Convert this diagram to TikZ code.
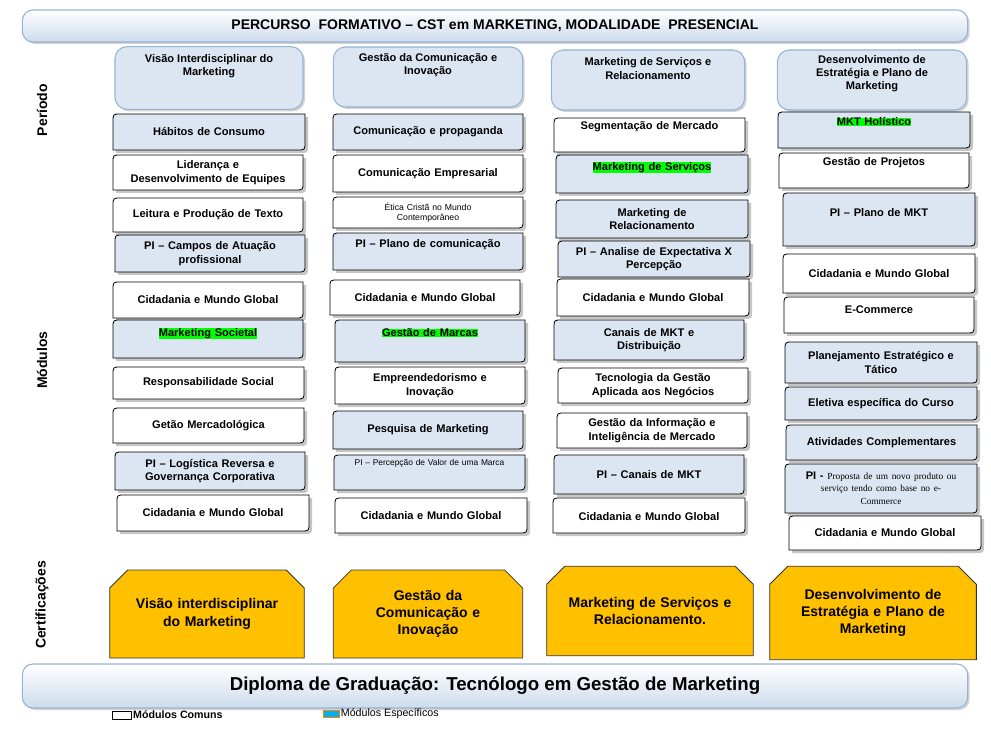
\documentclass[tikz,border=0pt]{standalone}
\usepackage{fontspec}
\setmainfont{Liberation Sans}
\setsansfont{Liberation Sans}
\usetikzlibrary{positioning,shapes.misc,shadows}
\definecolor{azulclaro}{HTML}{DCE6F2}
\definecolor{azulborda}{HTML}{95B3D7}
\definecolor{laranja}{HTML}{FFC000}
\definecolor{verde}{HTML}{00FF00}
\definecolor{azulleg}{HTML}{00B0F0}
\newcommand{\destaque}[1]{{\setlength{\fboxsep}{0pt}\colorbox{verde}{#1}}}
\newcommand{\modpath}[4]{({#1},{#4}) -- ({#1},{#2+8}) .. controls ({#1},{#2}) .. ({#1+8},{#2}) -- ({#3},{#2}) -- ({#3},{#4-8}) .. controls ({#3},{#4}) .. ({#3-8},{#4}) -- cycle}
% \modulo{nome}{x0}{y0}{x1}{y1}{estilo}{opcoes do texto}{texto}
\newcommand{\modulo}[8]{%
  \pgfmathsetmacro\largura{(#4-#2)*0.75-6}
  \fill[gray!45, shift={(3,3)}] \modpath{#2}{#3}{#4}{#5};
  \filldraw[#6] \modpath{#2}{#3}{#4}{#5};
  \node[modtexto, text width=\largura pt, #7] (#1) at ({(#2+#4)/2},{(#3+#5)/2}) {#8};
}
\begin{document}
\begin{tikzpicture}[x=0.75pt, y=-0.75pt,
  modazul/.style={fill=azulclaro, draw=black, line width=0.6pt},
  modbranco/.style={fill=white, draw=black, line width=0.6pt},
  modtexto/.style={align=center, inner sep=0pt, font=\fontsize{8.3}{10}\selectfont\bfseries},
  cabecalho/.style={fill=azulclaro, draw=azulborda, line width=0.8pt, rounded corners=9pt,
    drop shadow={opacity=.35, shadow xshift=1.5pt, shadow yshift=-1.5pt}},
  cabtexto/.style={align=center, inner sep=0pt, font=\fontsize{8.3}{10}\selectfont\bfseries},
  barra/.style={top color=white, bottom color=azulclaro!80!azulborda, draw=azulborda, line width=0.8pt,
    rounded corners=8pt, drop shadow={opacity=.35, shadow xshift=1.5pt, shadow yshift=-1.5pt}},
  certificado/.style={chamfered rectangle, chamfered rectangle corners={north west,north east},
    chamfered rectangle xsep=10pt, fill=laranja, draw=black!80, line width=0.6pt, align=center,
    font=\fontsize{10.5}{13}\selectfont\bfseries, inner sep=0pt},
  eixo/.style={rotate=90, font=\fontsize{10.5}{12}\selectfont\bfseries}]
  \useasboundingbox (0,0) rectangle (991,730);

  % barras
  \node[barra, minimum width=709pt, minimum height=24pt] (titulo) at (495,26)
    {\fontsize{10.5}{12}\selectfont\bfseries PERCURSO\ \ FORMATIVO -- CST em MARKETING, MODALIDADE\ \ PRESENCIAL};
  \node[barra, minimum width=709pt, minimum height=33pt] (diploma) at (495,686)
    {\fontsize{14}{16}\selectfont\bfseries Diploma de Graduação: Tecnólogo em Gestão de Marketing};

  % eixos
  \node[eixo] (periodo) at (42,110) {Período};
  \node[eixo] (modulos) at (42,360) {Módulos};
  \node[eixo] (certif) at (42,605) {Certificações};

  % cabecalhos
  \node[cabecalho, minimum width=141pt, minimum height=47pt] (cab1) at (209,78) {};
  \node[cabecalho, minimum width=142pt, minimum height=45pt] (cab2) at (428,77) {};
  \node[cabecalho, minimum width=145pt, minimum height=45pt] (cab3) at (648,80) {};
  \node[cabecalho, minimum width=142pt, minimum height=45pt] (cab4) at (872,80) {};
  \node[cabtexto, below=6pt of cab1.north] (tcab1) {Visão Interdisciplinar do\\Marketing};
  \node[cabtexto, below=5pt of cab2.north] (tcab2) {Gestão da Comunicação e\\Inovação};
  \node[cabtexto, below=6pt of cab3.north] (tcab3) {Marketing de Serviços e\\Relacionamento};
  \node[cabtexto, below=4pt of cab4.north] (tcab4) {Desenvolvimento de\\Estratégia e Plano de\\Marketing};

  % coluna 1
  \modulo{a1}{113}{114}{305}{150}{modazul}{}{Hábitos de Consumo}
  \modulo{a2}{113}{155}{303}{190}{modbranco}{}{Liderança e\\Desenvolvimento de Equipes}
  \modulo{a3}{113}{198}{303}{232}{modbranco}{}{Leitura e Produção de Texto}
  \modulo{a4}{115}{235}{305}{272}{modazul}{}{PI -- Campos de Atuação\\profissional}
  \modulo{a5}{113}{282}{303}{318}{modbranco}{}{Cidadania e Mundo Global}
  \modulo{a6}{113}{320}{303}{358}{modazul}{yshift=4pt}{\destaque{Marketing Societal}}
  \modulo{a7}{113}{367}{304}{399}{modbranco}{}{Responsabilidade Social}
  \modulo{a8}{113}{408}{304}{443}{modbranco}{}{Getão Mercadológica}
  \modulo{a9}{115}{452}{305}{490}{modazul}{}{PI -- Logística Reversa e\\Governança Corporativa}
  \modulo{a10}{117}{495}{309}{531}{modbranco}{}{Cidadania e Mundo Global}

  % coluna 2
  \modulo{b1}{333}{114}{523}{150}{modazul}{}{Comunicação e propaganda}
  \modulo{b2}{333}{155}{523}{192}{modbranco}{}{Comunicação Empresarial}
  \modulo{b3}{333}{197}{523}{228}{modbranco}{font=\fontsize{6.5}{8}\selectfont}{Ética Cristã no Mundo\\Contemporâneo}
  \modulo{b4}{333}{233}{523}{270}{modazul}{yshift=5pt}{PI -- Plano de comunicação}
  \modulo{b5}{330}{280}{520}{315}{modbranco}{}{Cidadania e Mundo Global}
  \modulo{b6}{335}{320}{525}{362}{modazul}{yshift=6pt}{\destaque{Gestão de Marcas}}
  \modulo{b7}{335}{367}{525}{404}{modbranco}{}{Empreendedorismo e\\Inovação}
  \modulo{b8}{333}{411}{523}{449}{modazul}{}{Pesquisa de Marketing}
  \modulo{b9}{334}{455}{525}{490}{modazul}{yshift=7pt, font=\fontsize{6.3}{7.5}\selectfont}{PI -- Percepção de Valor de uma Marca}
  \modulo{b10}{335}{498}{527}{533}{modbranco}{}{Cidadania e Mundo Global}

  % coluna 3
  \modulo{c1}{554}{118}{745}{152}{modbranco}{yshift=6pt}{Segmentação de Mercado}
  \modulo{c2}{556}{155}{748}{193}{modazul}{yshift=5pt}{\destaque{Marketing de Serviços}}
  \modulo{c3}{556}{200}{748}{238}{modazul}{}{Marketing de\\Relacionamento}
  \modulo{c4}{558}{241}{750}{277}{modazul}{}{PI -- Analise de Expectativa X\\Percepção}
  \modulo{c5}{557}{279}{749}{316}{modbranco}{}{Cidadania e Mundo Global}
  \modulo{c6}{554}{320}{744}{360}{modazul}{}{Canais de MKT e\\Distribuição}
  \modulo{c7}{558}{368}{748}{403}{modbranco}{}{Tecnologia da Gestão\\Aplicada aos Negócios}
  \modulo{c8}{557}{413}{747}{448}{modbranco}{}{Gestão da Informação e\\Inteligência de Mercado}
  \modulo{c9}{554}{455}{744}{494}{modazul}{}{PI -- Canais de MKT}
  \modulo{c10}{553}{498}{745}{533}{modbranco}{yshift=-1pt}{Cidadania e Mundo Global}

  % coluna 4
  \modulo{d1}{778}{112}{970}{148}{modazul}{yshift=6pt}{\destaque{MKT Holístico}}
  \modulo{d2}{779}{153}{969}{188}{modbranco}{yshift=6pt}{Gestão de Projetos}
  \modulo{d3}{783}{193}{975}{246}{modazul}{yshift=5pt}{PI -- Plano de MKT}
  \modulo{d4}{783}{254}{975}{293}{modbranco}{}{Cidadania e Mundo Global}
  \modulo{d5}{784}{297}{974}{333}{modbranco}{yshift=4pt}{E-Commerce}
  \modulo{d6}{785}{342}{977}{383}{modazul}{}{Planejamento Estratégico e\\Tático}
  \modulo{d7}{785}{387}{977}{420}{modazul}{}{Eletiva específica do Curso}
  \modulo{d8}{786}{425}{977}{460}{modazul}{}{Atividades Complementares}
  \modulo{d9}{785}{464}{977}{513}{modazul}{}{PI - {\fontspec{Liberation Serif}\mdseries\fontsize{7}{8.5}\selectfont Proposta de um novo produto ou\\serviço tendo como base no e-\\Commerce}}
  \modulo{d10}{789}{516}{981}{550}{modbranco}{}{Cidadania e Mundo Global}

  % certificacoes
  \node[certificado, minimum width=146pt, minimum height=66pt, text width=120pt] (cert1) at (207,614) {Visão interdisciplinar\\do Marketing};
  \node[certificado, minimum width=142pt, minimum height=66pt, text width=120pt] (cert2) at (428,614) {Gestão da\\Comunicação e\\Inovação};
  \node[certificado, minimum width=142pt, minimum height=67pt, text width=135pt] (cert3) at (650,611) {Marketing de Serviços e\\Relacionamento.};
  \node[certificado, minimum width=145pt, minimum height=70pt, text width=135pt] (cert4) at (873,613) {Desenvolvimento de\\Estratégia e Plano de\\Marketing};

  % legenda
  \node[draw=black, fill=white, minimum width=14pt, minimum height=6pt, inner sep=0pt] (legcom) at (122,715) {};
  \node[right=0pt of legcom, inner sep=1pt, font=\fontsize{8}{9}\selectfont\bfseries] (tcom) {Módulos Comuns};
  \node[draw=orange, fill=azulleg, minimum width=12pt, minimum height=5pt, inner sep=0pt] (legesp) at (331,714) {};
  \node[right=0pt of legesp, inner sep=1pt, font=\fontsize{8}{9}\selectfont] (tesp) {Módulos Específicos};
\end{tikzpicture}
\end{document}
